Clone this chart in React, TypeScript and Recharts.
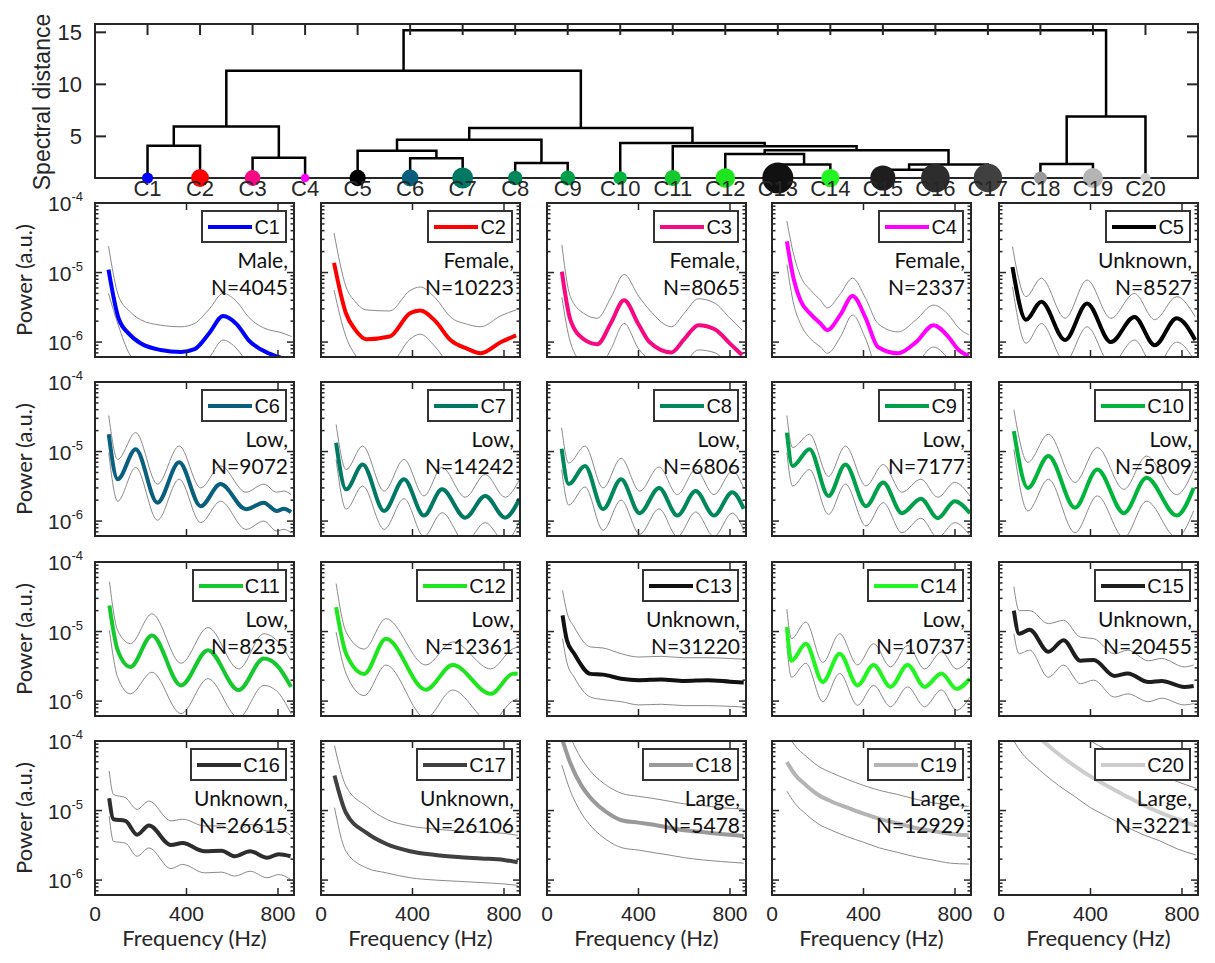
import React from 'react'
import { ComposedChart, LineChart, Line, Scatter, XAxis, YAxis } from 'recharts'

// ─── clusters ────────────────────────────────────────────────────────────────

const clusterNames = ['C1', 'C2', 'C3', 'C4', 'C5', 'C6', 'C7', 'C8', 'C9', 'C10', 'C11', 'C12', 'C13', 'C14', 'C15', 'C16', 'C17', 'C18', 'C19', 'C20']
const clusterGroups = ['Male', 'Female', 'Female', 'Female', 'Unknown', 'Low', 'Low', 'Low', 'Low', 'Low', 'Low', 'Low', 'Unknown', 'Low', 'Unknown', 'Unknown', 'Unknown', 'Large', 'Large', 'Large']
const clusterCounts = [4045, 10223, 8065, 2337, 8527, 9072, 14242, 6806, 7177, 5809, 8235, 12361, 31220, 10737, 20455, 26615, 26106, 5478, 12929, 3221]
const clusterColors = ['#0000ff', '#ff0000', '#f50a82', '#ff00ff', '#000000', '#0a5f7d', '#007864', '#00875a', '#00a04b', '#00b43c', '#14c82d', '#1ee61e', '#111111', '#22f522', '#1e1e1e', '#2d2d2d', '#404040', '#999999', '#b4b4b4', '#cdcdcd']

// ─── dendrogram links (leaves 1..20, merged nodes 21..39) ────────────────────

const linkLeft = [1, 3, 21, 6, 5, 8, 25, 13, 12, 15, 30, 29, 11, 10, 27, 23, 18, 37, 36]
const linkRight = [2, 4, 22, 7, 24, 9, 26, 14, 28, 16, 17, 31, 32, 33, 34, 35, 19, 20, 38]
const linkHeight = [4.1, 2.95, 5.95, 2.9, 3.63, 2.45, 4.68, 2.3, 3.3, 1.8, 2.3, 3.66, 4.04, 4.37, 5.8, 11.3, 2.35, 6.9, 15.2]
const distFloor = 1
const distDomain = [1, 15.8]
const distTicks = [5, 10, 15]

// ─── spectra: frequency (Hz), mean power, upper / lower bound ───────────────

const freqC1 = [59, 103, 150, 199, 287, 376, 435, 500, 560, 620, 671, 759, 803, 860]
const meanC1 = [1.1e-5, 2.2e-6, 1.3e-6, 9.6e-7, 7.7e-7, 7.2e-7, 7.9e-7, 1.35e-6, 2.37e-6, 1.8e-6, 1.07e-6, 6.9e-7, 6.1e-7, 5.2e-7]
const upperC1 = [2.4e-5, 4.6e-6, 2.8e-6, 2.1e-6, 1.75e-6, 1.66e-6, 1.85e-6, 3.0e-6, 5.0e-6, 3.8e-6, 2.3e-6, 1.5e-6, 1.4e-6, 1.2e-6]
const lowerC1 = [5.0e-6, 1.7e-6, 6.8e-7, 4.6e-7, 3.4e-7, 3.2e-7, 3.5e-7, 6e-7, 1.07e-6, 8e-7, 4.8e-7, 3e-7, 2.7e-7, 2.4e-7]

const freqC2 = [57, 109, 150, 198, 300, 389, 433, 500, 566, 640, 698, 787, 853]
const meanC2 = [1.38e-5, 2.6e-6, 1.5e-6, 1.1e-6, 1.2e-6, 2.6e-6, 2.85e-6, 2.0e-6, 1.07e-6, 8e-7, 6.9e-7, 1.0e-6, 1.25e-6]
const upperC2 = [3.7e-5, 6.3e-6, 3.8e-6, 2.9e-6, 2.8e-6, 5.5e-6, 6.2e-6, 4.3e-6, 2.3e-6, 1.8e-6, 1.66e-6, 2.4e-6, 2.9e-6]
const lowerC2 = [5.6e-6, 1.2e-6, 6.5e-7, 4.5e-7, 4.8e-7, 1.1e-6, 1.3e-6, 8.5e-7, 4.5e-7, 3.4e-7, 3e-7, 4.2e-7, 5.2e-7]

const freqC3 = [65, 102, 160, 220, 280, 337, 400, 448, 544, 600, 662, 735, 800, 853]
const meanC3 = [1.03e-5, 2.1e-6, 1.1e-6, 9.3e-7, 1.9e-6, 4.0e-6, 1.8e-6, 1.0e-6, 7.1e-7, 1.1e-6, 1.75e-6, 1.52e-6, 9.5e-7, 6.5e-7]
const upperC3 = [2.5e-5, 4.5e-6, 2.6e-6, 2.2e-6, 4.4e-6, 9.4e-6, 4.6e-6, 2.9e-6, 1.66e-6, 2.6e-6, 4.2e-6, 3.6e-6, 2.2e-6, 1.49e-6]
const lowerC3 = [4.4e-6, 1.0e-6, 4.8e-7, 4e-7, 8e-7, 1.85e-6, 8e-7, 5.5e-7, 3e-7, 4.8e-7, 7.7e-7, 7e-7, 4.3e-7, 3e-7]

const freqC4 = [65, 95, 124, 170, 212, 242, 300, 352, 410, 463, 551, 630, 706, 770, 816, 860]
const meanC4 = [2.8e-5, 8e-6, 4.0e-6, 2.5e-6, 1.85e-6, 1.49e-6, 2.5e-6, 4.6e-6, 2.2e-6, 8.5e-7, 6.9e-7, 1.0e-6, 1.75e-6, 1.2e-6, 7.7e-7, 6.3e-7]
const upperC4 = [5.5e-5, 1.8e-5, 9e-6, 5.5e-6, 4e-6, 3.1e-6, 5e-6, 8.3e-6, 4.2e-6, 1.85e-6, 1.4e-6, 2.1e-6, 3.4e-6, 2.5e-6, 1.6e-6, 1.27e-6]
const lowerC4 = [1.3e-5, 3.5e-6, 1.85e-6, 1.1e-6, 8.5e-7, 6.9e-7, 1.2e-6, 2.45e-6, 1.1e-6, 4e-7, 3.3e-7, 4.8e-7, 8.5e-7, 5.8e-7, 3.8e-7, 3.2e-7]

const freqC5 = [59, 118, 185, 289, 385, 489, 592, 681, 777, 858]
const meanC5 = [1.2e-5, 2.1e-6, 3.8e-6, 1.07e-6, 3.6e-6, 1.0e-6, 2.3e-6, 9e-7, 2.2e-6, 1.07e-6]
const upperC5 = [2.35e-5, 4.5e-6, 8.3e-6, 2.2e-6, 7.8e-6, 2.2e-6, 5e-6, 2.1e-6, 4.5e-6, 2.3e-6]
const lowerC5 = [6.2e-6, 9.6e-7, 1.85e-6, 5.2e-7, 1.66e-6, 4.8e-7, 1.07e-6, 4.3e-7, 1.0e-6, 5.2e-7]

const freqC6 = [60, 99, 178, 273, 368, 462, 549, 660, 738, 794, 826, 857]
const meanC6 = [1.77e-5, 4.0e-6, 1.08e-5, 1.84e-6, 7.0e-6, 1.64e-6, 3.4e-6, 1.48e-6, 1.84e-6, 1.4e-6, 1.5e-6, 1.34e-6]
const upperC6 = [3.3e-5, 7.7e-6, 1.87e-5, 3.4e-6, 1.2e-5, 3.0e-6, 6.2e-6, 2.6e-6, 3.4e-6, 2.6e-6, 2.7e-6, 2.4e-6]
const lowerC6 = [9.6e-6, 1.93e-6, 5.9e-6, 1.03e-6, 4.0e-6, 9.5e-7, 1.93e-6, 7.6e-7, 1.0e-6, 7.2e-7, 7.6e-7, 6.8e-7]

const freqC7 = [66, 110, 182, 276, 363, 450, 529, 631, 718, 805, 868]
const meanC7 = [1.34e-5, 2.86e-6, 6.5e-6, 1.4e-6, 4.0e-6, 1.2e-6, 2.86e-6, 1.12e-6, 2.3e-6, 1.12e-6, 2.1e-6]
const upperC7 = [2.45e-5, 5.5e-6, 1.2e-5, 2.7e-6, 7.7e-6, 2.3e-6, 5.9e-6, 2.2e-6, 4.7e-6, 2.2e-6, 4.0e-6]
const lowerC7 = [7.7e-6, 1.48e-6, 3.2e-6, 7.6e-7, 2.1e-6, 6e-7, 1.32e-6, 5e-7, 9.5e-7, 5e-7, 1.0e-6]

const freqC8 = [64, 95, 166, 245, 324, 405, 490, 570, 650, 730, 810, 860]
const meanC8 = [1.1e-5, 3.4e-6, 6.2e-6, 1.48e-6, 4.0e-6, 1.3e-6, 3.0e-6, 1.2e-6, 2.7e-6, 1.2e-6, 2.6e-6, 1.5e-6]
const upperC8 = [2.2e-5, 6.8e-6, 1.2e-5, 3.0e-6, 8e-6, 2.7e-6, 6e-6, 2.4e-6, 5.5e-6, 2.4e-6, 5.2e-6, 3.0e-6]
const lowerC8 = [5.5e-6, 1.7e-6, 3.1e-6, 7.4e-7, 2e-6, 6.5e-7, 1.5e-6, 6e-7, 1.35e-6, 6e-7, 1.3e-6, 7.5e-7]

const freqC9 = [65, 90, 164, 247, 321, 411, 486, 568, 651, 725, 799, 865]
const meanC9 = [1.87e-5, 6.2e-6, 1.08e-5, 2.3e-6, 6.5e-6, 1.64e-6, 3.6e-6, 1.3e-6, 2.1e-6, 1.1e-6, 1.93e-6, 1.3e-6]
const upperC9 = [3.3e-5, 1.14e-5, 1.77e-5, 4.4e-6, 1.2e-5, 3.2e-6, 6.5e-6, 2.6e-6, 4.0e-6, 2.2e-6, 3.6e-6, 2.3e-6]
const lowerC9 = [9.6e-6, 3.2e-6, 5.5e-6, 1.25e-6, 3.4e-6, 8.5e-7, 1.84e-6, 6.8e-7, 1.1e-6, 5.8e-7, 9.5e-7, 6.2e-7]

const freqC10 = [65, 126, 216, 332, 430, 546, 645, 777, 851]
const meanC10 = [1.97e-5, 3.0e-6, 8.6e-6, 1.56e-6, 5.5e-6, 1.3e-6, 4.2e-6, 1.2e-6, 3.0e-6]
const upperC10 = [4.0e-5, 7e-6, 1.77e-5, 3.6e-6, 1.14e-5, 2.86e-6, 8.6e-6, 2.4e-6, 5.5e-6]
const lowerC10 = [1.08e-5, 1.4e-6, 4e-6, 6.8e-7, 2.3e-6, 5.8e-7, 1.93e-6, 5.8e-7, 1.4e-6]

const freqC11 = [63, 99, 155, 249, 376, 494, 628, 738, 794, 857]
const meanC11 = [2.37e-5, 5.4e-6, 3.1e-6, 8.8e-6, 1.68e-6, 5.4e-6, 1.44e-6, 4.1e-6, 3.3e-6, 1.6e-6]
const upperC11 = [5.2e-5, 1.04e-5, 6.7e-6, 1.8e-5, 3.5e-6, 1.14e-5, 2.9e-6, 9.3e-6, 7.5e-6, 3.8e-6]
const lowerC11 = [1.04e-5, 2.2e-6, 1.27e-6, 2.6e-6, 6.6e-7, 2.1e-6, 5.8e-7, 1.68e-6, 1.4e-6, 6.6e-7]

const freqC12 = [66, 110, 189, 284, 458, 576, 742, 837, 860]
const meanC12 = [2.25e-5, 4.8e-6, 2.46e-6, 7.9e-6, 1.46e-6, 3.3e-6, 1.27e-6, 2.46e-6, 2.5e-6]
const upperC12 = [4.9e-5, 9.8e-6, 5.6e-6, 1.53e-5, 3.3e-6, 7.1e-6, 2.9e-6, 5.6e-6, 6e-6]
const lowerC12 = [9.8e-6, 2.46e-6, 1.2e-6, 3.3e-6, 5.7e-7, 1.44e-6, 5e-7, 1.0e-6, 1.08e-6]

const freqC13 = [68, 87, 119, 190, 245, 324, 402, 500, 600, 700, 800, 860]
const meanC13 = [1.71e-5, 7.5e-6, 4.8e-6, 2.46e-6, 2.4e-6, 2.1e-6, 2.0e-6, 2.05e-6, 1.95e-6, 2.0e-6, 1.9e-6, 1.84e-6]
const upperC13 = [3.9e-5, 1.9e-5, 1.16e-5, 6e-6, 5.8e-6, 4.8e-6, 4.3e-6, 4.4e-6, 4.2e-6, 4.2e-6, 4.1e-6, 4.0e-6]
const lowerC13 = [7.9e-6, 3.6e-6, 2.2e-6, 1.14e-6, 1.05e-6, 9.8e-7, 8.8e-7, 9e-7, 8.6e-7, 8.6e-7, 8.4e-7, 8.2e-7]

const freqC14 = [65, 85, 148, 222, 296, 374, 444, 518, 593, 667, 741, 807, 865]
const meanC14 = [1.16e-5, 3.8e-6, 6.7e-6, 1.88e-6, 4.8e-6, 1.68e-6, 3.3e-6, 1.6e-6, 3.3e-6, 1.6e-6, 2.5e-6, 1.5e-6, 2.1e-6]
const upperC14 = [2.1e-5, 7.9e-6, 1.37e-5, 3.6e-6, 9.3e-6, 3.3e-6, 6.7e-6, 3.1e-6, 6.3e-6, 2.9e-6, 5.1e-6, 2.9e-6, 4.1e-6]
const lowerC14 = [6.3e-6, 2.2e-6, 3.5e-6, 9.8e-7, 2.5e-6, 8.7e-7, 1.68e-6, 8.3e-7, 1.6e-6, 8.3e-7, 1.45e-6, 7.4e-7, 1.14e-6]

const freqC15 = [65, 88, 134, 216, 282, 356, 414, 505, 563, 653, 711, 810, 851]
const meanC15 = [2.0e-5, 9.3e-6, 1.06e-5, 5.1e-6, 7.5e-6, 3.8e-6, 3.9e-6, 2.3e-6, 2.5e-6, 1.88e-6, 1.95e-6, 1.6e-6, 1.65e-6]
const upperC15 = [4.4e-5, 2e-5, 2e-5, 1.3e-5, 1.45e-5, 8.3e-6, 7.9e-6, 4.8e-6, 5.4e-6, 3.8e-6, 4.1e-6, 3.1e-6, 3.3e-6]
const lowerC15 = [9.3e-6, 4.8e-6, 5.4e-6, 2.2e-6, 3.3e-6, 1.78e-6, 2e-6, 1.14e-6, 1.27e-6, 9.8e-7, 1.1e-6, 8.8e-7, 9.2e-7]

const freqC16 = [62, 81, 133, 184, 236, 332, 383, 479, 553, 611, 678, 752, 803, 855]
const meanC16 = [1.5e-5, 7.5e-6, 7.1e-6, 4.5e-6, 6.1e-6, 3.2e-6, 3.4e-6, 2.6e-6, 2.65e-6, 2.2e-6, 2.6e-6, 2.1e-6, 2.35e-6, 2.2e-6]
const upperC16 = [3.7e-5, 1.7e-5, 1.53e-5, 1.04e-5, 1.37e-5, 7.1e-6, 7.5e-6, 6e-6, 6e-6, 4.8e-6, 6.3e-6, 5.1e-6, 5.4e-6, 4.4e-6]
const lowerC16 = [8.3e-6, 3.6e-6, 3.4e-6, 2.2e-6, 2.9e-6, 1.46e-6, 1.68e-6, 1.27e-6, 1.3e-6, 1.14e-6, 1.34e-6, 1.08e-6, 1.2e-6, 1.02e-6]

const freqC17 = [59, 109, 198, 286, 389, 500, 600, 700, 800, 860]
const meanC17 = [3.2e-5, 9.3e-6, 4.8e-6, 3.3e-6, 2.6e-6, 2.3e-6, 2.15e-6, 2.05e-6, 1.95e-6, 1.8e-6]
const upperC17 = [8.5e-5, 2.25e-5, 1.16e-5, 7.5e-6, 6e-6, 5.4e-6, 5.1e-6, 4.9e-6, 4.7e-6, 4.4e-6]
const lowerC17 = [1.1e-5, 2.6e-6, 1.5e-6, 1.27e-6, 1.08e-6, 1.0e-6, 9.6e-7, 9.2e-7, 8.8e-7, 8.4e-7]

const freqC18 = [65, 100, 150, 200, 260, 330, 400, 460, 530, 600, 680, 760, 860]
const meanC18 = [1.1e-4, 5e-5, 2.3e-5, 1.4e-5, 9.5e-6, 7.2e-6, 6.7e-6, 6.3e-6, 5.7e-6, 5.2e-6, 4.9e-6, 4.6e-6, 4.3e-6]
const upperC18 = [2.6e-4, 1.2e-4, 5.6e-5, 3.4e-5, 2.3e-5, 1.75e-5, 1.6e-5, 1.5e-5, 1.37e-5, 1.25e-5, 1.18e-5, 1.1e-5, 1.05e-5]
const lowerC18 = [4.5e-5, 2.0e-5, 9.2e-6, 5.6e-6, 3.8e-6, 2.9e-6, 2.7e-6, 2.5e-6, 2.3e-6, 2.1e-6, 1.95e-6, 1.85e-6, 1.75e-6]

const freqC19 = [65, 100, 150, 200, 260, 330, 400, 470, 550, 630, 700, 780, 860]
const meanC19 = [5e-5, 3.3e-5, 2.3e-5, 1.7e-5, 1.35e-5, 1.1e-5, 9e-6, 7.6e-6, 6.5e-6, 5.6e-6, 5.1e-6, 4.6e-6, 4.4e-6]
const upperC19 = [1.3e-4, 8.6e-5, 6e-5, 4.4e-5, 3.5e-5, 2.8e-5, 2.3e-5, 1.95e-5, 1.7e-5, 1.45e-5, 1.3e-5, 1.2e-5, 1.15e-5]
const lowerC19 = [1.9e-5, 1.27e-5, 8.8e-6, 6.5e-6, 5.2e-6, 4.2e-6, 3.5e-6, 2.9e-6, 2.5e-6, 2.15e-6, 1.95e-6, 1.75e-6, 1.7e-6]

const freqC20 = [65, 100, 150, 200, 260, 330, 400, 470, 550, 630, 700, 780, 860]
const meanC20 = [3e-4, 2e-4, 1.35e-4, 9.5e-5, 6.5e-5, 4.4e-5, 3.1e-5, 2.3e-5, 1.65e-5, 1.2e-5, 9.5e-6, 7.5e-6, 6e-6]
const upperC20 = [9e-4, 6e-4, 4.2e-4, 3e-4, 2.1e-4, 1.45e-4, 1.0e-4, 7.5e-5, 5.4e-5, 4.1e-5, 3.3e-5, 2.6e-5, 2.1e-5]
const lowerC20 = [1.0e-4, 6.7e-5, 4.6e-5, 3.3e-5, 2.3e-5, 1.6e-5, 1.1e-5, 8.3e-6, 6e-6, 4.5e-6, 3.7e-6, 2.8e-6, 2.3e-6]

const spectra = [
  { freq: freqC1, mean: meanC1, upper: upperC1, lower: lowerC1 },
  { freq: freqC2, mean: meanC2, upper: upperC2, lower: lowerC2 },
  { freq: freqC3, mean: meanC3, upper: upperC3, lower: lowerC3 },
  { freq: freqC4, mean: meanC4, upper: upperC4, lower: lowerC4 },
  { freq: freqC5, mean: meanC5, upper: upperC5, lower: lowerC5 },
  { freq: freqC6, mean: meanC6, upper: upperC6, lower: lowerC6 },
  { freq: freqC7, mean: meanC7, upper: upperC7, lower: lowerC7 },
  { freq: freqC8, mean: meanC8, upper: upperC8, lower: lowerC8 },
  { freq: freqC9, mean: meanC9, upper: upperC9, lower: lowerC9 },
  { freq: freqC10, mean: meanC10, upper: upperC10, lower: lowerC10 },
  { freq: freqC11, mean: meanC11, upper: upperC11, lower: lowerC11 },
  { freq: freqC12, mean: meanC12, upper: upperC12, lower: lowerC12 },
  { freq: freqC13, mean: meanC13, upper: upperC13, lower: lowerC13 },
  { freq: freqC14, mean: meanC14, upper: upperC14, lower: lowerC14 },
  { freq: freqC15, mean: meanC15, upper: upperC15, lower: lowerC15 },
  { freq: freqC16, mean: meanC16, upper: upperC16, lower: lowerC16 },
  { freq: freqC17, mean: meanC17, upper: upperC17, lower: lowerC17 },
  { freq: freqC18, mean: meanC18, upper: upperC18, lower: lowerC18 },
  { freq: freqC19, mean: meanC19, upper: upperC19, lower: lowerC19 },
  { freq: freqC20, mean: meanC20, upper: upperC20, lower: lowerC20 },
]

// ─── axes ────────────────────────────────────────────────────────────────────

const freqDomain = [0, 870]
const freqTicks = [0, 400, 800]
const powerDomain = [6.1e-7, 1e-4]
const powerTicks = [
  7e-7, 8e-7, 9e-7,
  1e-6, 2e-6, 3e-6, 4e-6, 5e-6, 6e-6, 7e-6, 8e-6, 9e-6,
  1e-5, 2e-5, 3e-5, 4e-5, 5e-5, 6e-5, 7e-5, 8e-5, 9e-5,
  1e-4,
]

// ─── layout ──────────────────────────────────────────────────────────────────

const W = 1215
const H = 963
const colLefts = [95, 321, 547, 772, 999]
const rowTops = [203, 382, 562, 741]
const PW = 199
const PH = 154
const AXW = 80
const PADT = 24
const PADR = 12
const AXH = 50

const INK = '#262626'
const tickFont = '"Liberation Sans", Arial, sans-serif'
const labelFont = 'Lato, "Open Sans", sans-serif'

// ─── ticks ───────────────────────────────────────────────────────────────────

function PowerTick(props: any) {
  const { y, payload, showLabel } = props
  const lg = Math.log10(payload.value)
  const major = Math.abs(lg - Math.round(lg)) < 1e-6
  const len = major ? 7 : 3.5
  return (
    <g>
      <line x1={AXW} x2={AXW + len} y1={y} y2={y} stroke={INK} strokeWidth={1.5} />
      <line x1={AXW + PW} x2={AXW + PW - len} y1={y} y2={y} stroke={INK} strokeWidth={1.5} />
      {major && showLabel && (
        <text x={AXW - 12} y={y + 8} textAnchor="end" fontFamily={tickFont} fontSize={21} fill={INK}>
          10
          <tspan dy={-10} fontSize={13}>
            {Math.round(lg)}
          </tspan>
        </text>
      )}
    </g>
  )
}

function FreqTick(props: any) {
  const { x, payload, showLabel } = props
  const bottom = PADT + PH
  return (
    <g>
      {payload.value > 0 && (
        <>
          <line x1={x} x2={x} y1={bottom} y2={bottom - 7} stroke={INK} strokeWidth={1.5} />
          <line x1={x} x2={x} y1={PADT} y2={PADT + 7} stroke={INK} strokeWidth={1.5} />
        </>
      )}
      {showLabel && (
        <text x={x} y={bottom + 26} textAnchor="middle" fontFamily={tickFont} fontSize={21} fill={INK}>
          {payload.value}
        </text>
      )}
    </g>
  )
}

// ─── one spectrum panel ──────────────────────────────────────────────────────

function SpectrumPanel({ idx }: { idx: number }) {
  const col = idx % 5
  const row = Math.floor(idx / 5)
  const left = colLefts[col]
  const top = rowTops[row]
  const s = spectra[idx]
  const color = clusterColors[idx]
  const toRows = (vals: number[]) => s.freq.map((f, i) => ({ f, p: vals[i] }))

  return (
    <>
      <div style={{ position: 'absolute', left: left - AXW, top: top - PADT }}>
        <LineChart
          width={AXW + PW + PADR}
          height={PADT + PH + AXH}
          margin={{ top: PADT, right: PADR, bottom: 0, left: 0 }}
        >
          <XAxis
            type="number"
            dataKey="f"
            domain={freqDomain}
            ticks={freqTicks}
            allowDataOverflow
            height={AXH}
            axisLine={false}
            tickLine={false}
            interval={0}
            tick={<FreqTick showLabel={row === 3} />}
          />
          <YAxis
            type="number"
            scale="log"
            domain={powerDomain}
            ticks={powerTicks}
            allowDataOverflow
            width={AXW}
            axisLine={false}
            tickLine={false}
            interval={0}
            tick={<PowerTick showLabel={col === 0} />}
          />
          <Line data={toRows(s.upper)} dataKey="p" type="monotone" stroke="#8a8a8a" strokeWidth={1} dot={false} activeDot={false} isAnimationActive={false} />
          <Line data={toRows(s.lower)} dataKey="p" type="monotone" stroke="#8a8a8a" strokeWidth={1} dot={false} activeDot={false} isAnimationActive={false} />
          <Line data={toRows(s.mean)} dataKey="p" type="monotone" stroke={color} strokeWidth={4} dot={false} activeDot={false} isAnimationActive={false} />
        </LineChart>
      </div>

      {/* frame */}
      <div
        style={{
          position: 'absolute',
          left: left - 1,
          top: top - 1,
          width: PW + 2,
          height: PH + 2,
          border: `2px solid ${INK}`,
          boxSizing: 'border-box',
        }}
      />

      {/* legend */}
      <div
        style={{
          position: 'absolute',
          right: W - (left + PW) + 7,
          top: top + 7,
          height: 33,
          boxSizing: 'border-box',
          border: '2.5px solid #333',
          background: '#fff',
          display: 'flex',
          alignItems: 'center',
          padding: '0 5px',
        }}
      >
        <div style={{ width: 44, height: 4, background: color }} />
        <span style={{ marginLeft: 2, fontFamily: tickFont, fontSize: 20, color: '#111', lineHeight: '22px' }}>
          {clusterNames[idx]}
        </span>
      </div>

      {/* group and count */}
      <div
        style={{
          position: 'absolute',
          left,
          top: top + 43,
          width: PW - 6,
          textAlign: 'right',
          fontFamily: labelFont,
          fontSize: 21,
          lineHeight: '27px',
          color: '#111',
        }}
      >
        <div>{clusterGroups[idx]},</div>
        <div>N={clusterCounts[idx]}</div>
      </div>
    </>
  )
}

// ─── dendrogram ──────────────────────────────────────────────────────────────

function DendroYTick(props: any) {
  const { y, payload } = props
  return (
    <g>
      <line x1={95} x2={106} y1={y} y2={y} stroke={INK} strokeWidth={2} />
      <line x1={W - 17} x2={W - 28} y1={y} y2={y} stroke={INK} strokeWidth={2} />
      <text x={82} y={y + 8} textAnchor="end" fontFamily={tickFont} fontSize={22} fill={INK}>
        {payload.value}
      </text>
    </g>
  )
}

function DendroXTick(props: any) {
  const { x, payload } = props
  return (
    <g>
      <line x1={x} x2={x} y1={24} y2={35} stroke={INK} strokeWidth={2} />
      <text x={x} y={196} textAnchor="middle" fontFamily={tickFont} fontSize={22} fill={INK}>
        {clusterNames[payload.value - 1]}
      </text>
    </g>
  )
}

function Dendrogram() {
  const nodeX: number[] = []
  const nodeH: number[] = []
  clusterNames.forEach((_, i) => {
    nodeX[i + 1] = i + 1
    nodeH[i + 1] = distFloor
  })
  linkLeft.forEach((l, k) => {
    const id = clusterNames.length + 1 + k
    nodeX[id] = (nodeX[l] + nodeX[linkRight[k]]) / 2
    nodeH[id] = linkHeight[k]
  })
  const links = linkLeft.map((l, k) => {
    const r = linkRight[k]
    const h = linkHeight[k]
    return [
      { x: nodeX[l], y: nodeH[l] },
      { x: nodeX[l], y: h },
      { x: nodeX[r], y: h },
      { x: nodeX[r], y: nodeH[r] },
    ]
  })
  const leaves = clusterNames.map((_, i) => ({
    x: i + 1,
    y: distFloor,
    r: 0.088 * Math.sqrt(clusterCounts[i]),
    color: clusterColors[i],
  }))
  const leafTicks = clusterNames.map((_, i) => i + 1)

  return (
    <>
      <div
        style={{
          position: 'absolute',
          left: 94,
          top: 23,
          width: W - 17 - 95 + 2,
          height: 178 - 24 + 2,
          border: `2px solid ${INK}`,
          boxSizing: 'border-box',
        }}
      />
      <div style={{ position: 'absolute', left: 0, top: 0 }}>
        <ComposedChart width={W} height={200} margin={{ top: 24, right: 17, bottom: 0, left: 0 }}>
          <XAxis
            type="number"
            dataKey="x"
            domain={[0, 21]}
            ticks={leafTicks}
            height={22}
            axisLine={false}
            tickLine={false}
            interval={0}
            tick={<DendroXTick />}
          />
          <YAxis
            type="number"
            domain={distDomain}
            ticks={distTicks}
            width={95}
            axisLine={false}
            tickLine={false}
            interval={0}
            tick={<DendroYTick />}
          />
          {links.map((pts, k) => (
            <Line
              key={k}
              data={pts}
              dataKey="y"
              type="linear"
              stroke="#000"
              strokeWidth={2.5}
              dot={false}
              activeDot={false}
              isAnimationActive={false}
            />
          ))}
          <Scatter
            data={leaves}
            dataKey="y"
            isAnimationActive={false}
            shape={(p: any) => <circle cx={p.cx} cy={p.cy} r={p.payload.r} fill={p.payload.color} />}
          />
        </ComposedChart>
      </div>
      <div
        style={{
          position: 'absolute',
          left: 42,
          top: 102,
          transform: 'translate(-50%, -50%) rotate(-90deg)',
          whiteSpace: 'nowrap',
          fontFamily: tickFont,
          fontSize: 23,
          color: INK,
        }}
      >
        Spectral distance
      </div>
    </>
  )
}

// ─── page ────────────────────────────────────────────────────────────────────

export default function App() {
  return (
    <div style={{ position: 'absolute', left: 0, top: 0, width: W, height: H, background: '#fff', overflow: 'hidden' }}>
      <Dendrogram />
      {spectra.map((_, i) => (
        <SpectrumPanel key={i} idx={i} />
      ))}
      {rowTops.map((t) => (
        <div
          key={t}
          style={{
            position: 'absolute',
            left: 23,
            top: t + PH / 2,
            transform: 'translate(-50%, -50%) rotate(-90deg)',
            whiteSpace: 'nowrap',
            fontFamily: labelFont,
            fontSize: 22,
            color: INK,
          }}
        >
          Power (a.u.)
        </div>
      ))}
      {colLefts.map((l) => (
        <div
          key={l}
          style={{
            position: 'absolute',
            left: l + PW / 2,
            top: 937,
            transform: 'translate(-50%, -50%)',
            whiteSpace: 'nowrap',
            fontFamily: labelFont,
            fontSize: 22,
            color: INK,
          }}
        >
          Frequency (Hz)
        </div>
      ))}
    </div>
  )
}
